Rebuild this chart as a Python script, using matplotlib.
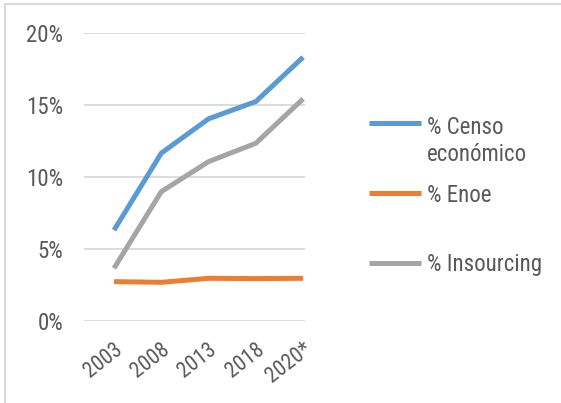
import matplotlib
matplotlib.use("Agg")
import matplotlib.pyplot as plt
from matplotlib.lines import Line2D
from matplotlib.patches import Rectangle
from matplotlib.ticker import FuncFormatter
from matplotlib.transforms import ScaledTranslation

# --- Data ---
YEARS = ['2003', '2008', '2013', '2018', '2020*']
CENSO = [0.063, 0.1166, 0.1405, 0.1525, 0.1834]
ENOE = [0.0272, 0.0267, 0.0295, 0.0293, 0.0295]
INSOURCING = [0.0365, 0.0898, 0.1107, 0.1235, 0.1544]

SERIES = [
    ('% Censo\neconómico', CENSO, '#5B9BD5'),
    ('% Enoe', ENOE, '#ED7D31'),
    ('% Insourcing', INSOURCING, '#A5A5A5'),
]

TEXT_COLOR = '#595959'
GRID_COLOR = '#D9D9D9'

plt.rcParams['font.family'] = ['Roboto Condensed', 'Liberation Sans', 'DejaVu Sans']

W, H = 561, 403
fig = plt.figure(figsize=(W / 100, H / 100), dpi=100)


def fx(px):
    return px / W


def fy(py):
    return 1 - py / H


# Plot area
ax = fig.add_axes([fx(84), fy(320.7), fx(305) - fx(84), fy(33.3) - fy(320.7)])

x = list(range(len(YEARS)))
for label, values, color in SERIES:
    ax.plot(x, values, color=color, linewidth=3.6, solid_capstyle='butt',
            solid_joinstyle='miter', label=label)

ax.set_ylim(0, 0.20)
ax.set_yticks([0, 0.05, 0.10, 0.15, 0.20])
ax.yaxis.set_major_formatter(FuncFormatter(lambda v, _: f"{v * 100:.0f}%"))
ax.set_xlim(-0.635, 4.04)
ax.set_xticks(x)
ax.set_xticklabels(YEARS, rotation=38, ha='right', va='center',
                   rotation_mode='anchor')

ax.grid(axis='y', color=GRID_COLOR, linewidth=1.3)
ax.set_axisbelow(True)
for side in ax.spines.values():
    side.set_visible(False)

ax.tick_params(axis='y', length=0, pad=15, labelsize=16.5, labelcolor=TEXT_COLOR)
ax.tick_params(axis='x', length=0, pad=19, labelsize=15.5, labelcolor=TEXT_COLOR)

# nudge the rotated year labels a little to the right
shift = ScaledTranslation(6 / 100, 0, fig.dpi_scale_trans)
for tl in ax.get_xticklabels():
    tl.set_transform(tl.get_transform() + shift)

# Legend beside the plot, each key level with the first line of its label
legend_rows = [123, 193, 263]
line_step = 29
for (label, values, color), row in zip(SERIES, legend_rows):
    fig.add_artist(Line2D([fx(369), fx(421)], [fy(row), fy(row)],
                          color=color, linewidth=3.6, solid_capstyle='butt'))
    extra = line_step * label.count('\n')
    fig.text(fx(427), fy(row + 8.5 + extra), label, color=TEXT_COLOR,
             fontsize=16.5, ha='left', va='baseline', linespacing=1.2)

# Outer frame (top and left edges)
fig.add_artist(Rectangle((fx(5), -0.5), 2, fy(4) + 0.5, fill=False,
                         edgecolor=GRID_COLOR, linewidth=1.5,
                         transform=fig.transFigure))

fig.savefig('out.png', dpi=100)
